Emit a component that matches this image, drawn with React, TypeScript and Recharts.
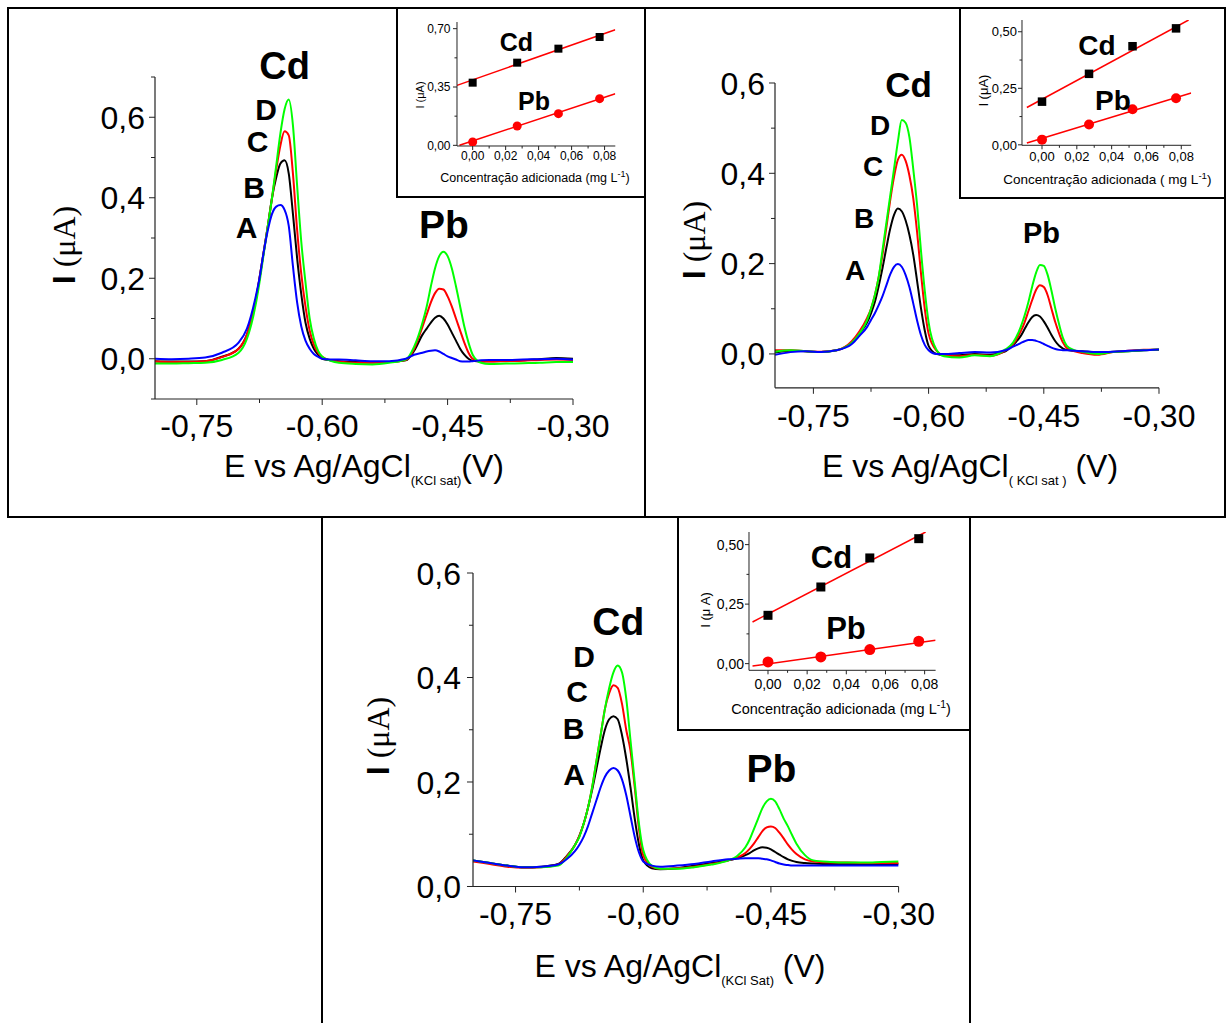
import { LineChart, Line, XAxis, YAxis } from 'recharts';

const FONT = '"Liberation Sans", Arial, Helvetica, sans-serif';
const SERIF = '"Liberation Serif", "Times New Roman", serif';
const AXIS = '#222';

// shared potential grid (V vs Ag/AgCl)
const potentials = [
  -0.8, -0.78, -0.76, -0.74, -0.72, -0.7, -0.69, -0.68, -0.675, -0.67, -0.665, -0.66, -0.655,
  -0.65, -0.645, -0.64, -0.635, -0.63, -0.625, -0.62, -0.615, -0.61, -0.605, -0.6, -0.59, -0.58,
  -0.56, -0.54, -0.52, -0.5, -0.49, -0.48, -0.475, -0.47, -0.465, -0.46, -0.455, -0.45, -0.445,
  -0.44, -0.435, -0.43, -0.425, -0.42, -0.41, -0.4, -0.38, -0.36, -0.34, -0.32, -0.3,
];

// panel 1 currents (uA)
const p1A = [
  0.0, -0.001, 0.0, 0.003, 0.015, 0.04, 0.075, 0.15, 0.2, 0.265, 0.32, 0.36, 0.378,
  0.382, 0.37, 0.33, 0.23, 0.14, 0.08, 0.045, 0.025, 0.012, 0.005, 0.0, -0.002, -0.002,
  -0.004, -0.006, -0.006, 0.0, 0.01, 0.015, 0.018, 0.02, 0.021, 0.018, 0.012, 0.006, 0.002,
  -0.002, -0.006, -0.007, -0.007, -0.006, -0.004, -0.003, -0.003, -0.002, -0.001, 0.0, -0.002,
];
const p1B = [
  -0.006, -0.007, -0.007, -0.006, 0.005, 0.025, 0.06, 0.14, 0.2, 0.265, 0.33, 0.4, 0.45,
  0.485, 0.493, 0.46, 0.36, 0.25, 0.16, 0.09, 0.05, 0.025, 0.01, 0.0, -0.004, -0.006,
  -0.008, -0.009, -0.008, -0.004, 0.02, 0.06, 0.075, 0.09, 0.102, 0.107, 0.1, 0.085, 0.065,
  0.045, 0.025, 0.01, 0.0, -0.005, -0.007, -0.006, -0.005, -0.004, -0.001, 0.002, 0.0,
];
const p1C = [
  -0.007, -0.008, -0.008, -0.006, 0.004, 0.025, 0.06, 0.14, 0.2, 0.265, 0.33, 0.4, 0.47,
  0.53, 0.565, 0.555, 0.46, 0.32, 0.21, 0.13, 0.07, 0.035, 0.015, 0.005, -0.004, -0.007,
  -0.01, -0.01, -0.008, -0.003, 0.025, 0.08, 0.11, 0.14, 0.163, 0.174, 0.172, 0.155, 0.13,
  0.1, 0.07, 0.04, 0.015, 0.0, -0.007, -0.007, -0.006, -0.005, -0.003, -0.002, -0.003,
];
const p1D = [
  -0.012, -0.012, -0.011, -0.01, -0.003, 0.015, 0.05, 0.13, 0.19, 0.26, 0.33, 0.4, 0.48,
  0.56, 0.62, 0.644, 0.58, 0.43, 0.29, 0.19, 0.1, 0.05, 0.02, 0.005, -0.005, -0.01,
  -0.013, -0.014, -0.01, -0.002, 0.03, 0.09, 0.13, 0.18, 0.225, 0.255, 0.266, 0.255, 0.225,
  0.18, 0.13, 0.08, 0.04, 0.01, -0.01, -0.013, -0.012, -0.011, -0.01, -0.008, -0.008,
];

// panel 2 currents (uA)
const p2A = [
  -0.002, 0.004, 0.006, 0.004, 0.008, 0.022, 0.04, 0.06, 0.075, 0.09, 0.108, 0.128, 0.152,
  0.176, 0.193, 0.199, 0.193, 0.175, 0.148, 0.112, 0.074, 0.042, 0.02, 0.008, 0.0, 0.0,
  0.002, 0.004, 0.003, 0.008, 0.016, 0.024, 0.028, 0.031, 0.031, 0.029, 0.026, 0.022, 0.018,
  0.014, 0.011, 0.009, 0.008, 0.008, 0.007, 0.006, 0.004, 0.005, 0.007, 0.008, 0.01,
];
const p2B = [
  0.003, 0.007, 0.006, 0.004, 0.008, 0.025, 0.045, 0.07, 0.09, 0.115, 0.15, 0.19, 0.235,
  0.277, 0.308, 0.322, 0.316, 0.296, 0.264, 0.22, 0.162, 0.102, 0.052, 0.018, 0.0, -0.003,
  -0.003, 0.0, -0.002, 0.006, 0.02, 0.04, 0.055, 0.07, 0.082, 0.086, 0.083, 0.072, 0.058,
  0.042, 0.028, 0.018, 0.012, 0.009, 0.007, 0.006, 0.003, 0.005, 0.006, 0.008, 0.009,
];
const p2C = [
  0.008, 0.008, 0.006, 0.005, 0.008, 0.028, 0.05, 0.08, 0.1, 0.13, 0.17, 0.22, 0.28,
  0.34, 0.392, 0.43, 0.441, 0.428, 0.395, 0.345, 0.27, 0.18, 0.1, 0.045, 0.008, -0.003,
  -0.005, -0.002, -0.004, 0.008, 0.022, 0.05, 0.07, 0.095, 0.12, 0.142, 0.152, 0.148, 0.13,
  0.1, 0.07, 0.045, 0.025, 0.013, 0.006, 0.002, -0.002, 0.004, 0.007, 0.009, 0.01,
];
const p2D = [
  0.005, 0.008, 0.006, 0.004, 0.008, 0.025, 0.045, 0.075, 0.1, 0.13, 0.17, 0.23, 0.29,
  0.35, 0.41, 0.47, 0.518, 0.512, 0.48, 0.41, 0.33, 0.23, 0.14, 0.07, 0.01, -0.005,
  -0.008, -0.003, -0.005, 0.01, 0.025, 0.06, 0.085, 0.115, 0.15, 0.18, 0.197, 0.195, 0.175,
  0.14, 0.1, 0.065, 0.035, 0.018, 0.008, 0.005, 0.0, 0.004, 0.006, 0.008, 0.01,
];

// panel 3 currents (uA)
const p3A = [
  0.05, 0.045, 0.04, 0.037, 0.038, 0.042, 0.052, 0.068, 0.08, 0.095, 0.115, 0.14, 0.165,
  0.19, 0.21, 0.222, 0.227, 0.222, 0.205, 0.175, 0.135, 0.095, 0.065, 0.048, 0.04, 0.038,
  0.04, 0.043, 0.048, 0.052, 0.053, 0.054, 0.054, 0.054, 0.054, 0.053, 0.052, 0.05, 0.047,
  0.044, 0.042, 0.041, 0.04, 0.04, 0.04, 0.04, 0.04, 0.04, 0.04, 0.04, 0.04,
];
const p3B = [
  0.05, 0.045, 0.04, 0.037, 0.038, 0.043, 0.058, 0.08, 0.097, 0.12, 0.15, 0.185, 0.225,
  0.265, 0.3, 0.32, 0.326, 0.32, 0.29, 0.245, 0.19, 0.13, 0.08, 0.05, 0.035, 0.033,
  0.035, 0.04, 0.045, 0.05, 0.054, 0.06, 0.064, 0.069, 0.073, 0.075, 0.074, 0.071, 0.066,
  0.061, 0.056, 0.052, 0.049, 0.047, 0.045, 0.044, 0.043, 0.043, 0.043, 0.043, 0.043,
];
const p3C = [
  0.048, 0.043, 0.038, 0.036, 0.037, 0.042, 0.057, 0.08, 0.097, 0.12, 0.15, 0.19, 0.24,
  0.29, 0.34, 0.37, 0.385, 0.38, 0.35, 0.3, 0.26, 0.19, 0.11, 0.06, 0.038, 0.034,
  0.035, 0.038, 0.043, 0.05, 0.055, 0.064, 0.072, 0.082, 0.094, 0.106, 0.113, 0.115, 0.112,
  0.103, 0.092, 0.08, 0.07, 0.062, 0.052, 0.048, 0.046, 0.046, 0.045, 0.045, 0.045,
];
const p3D = [
  0.05, 0.045, 0.04, 0.037, 0.037, 0.04, 0.055, 0.08, 0.095, 0.12, 0.15, 0.19, 0.24,
  0.29, 0.34, 0.38, 0.41, 0.423, 0.41, 0.36, 0.28, 0.2, 0.12, 0.07, 0.04, 0.034,
  0.034, 0.037, 0.042, 0.05, 0.058, 0.075, 0.09, 0.11, 0.13, 0.15, 0.163, 0.168, 0.163,
  0.148, 0.13, 0.115, 0.098, 0.082, 0.06, 0.05, 0.047, 0.046, 0.046, 0.047, 0.048,
];

const xMajor = [-0.75, -0.6, -0.45, -0.3];
const xMajorLabels = ['-0,75', '-0,60', '-0,45', '-0,30'];
const xMinor = [-0.675, -0.525, -0.375];
const yMajor = [0, 0.2, 0.4, 0.6];
const yMajorLabels = ['0,0', '0,2', '0,4', '0,6'];

// insets: added concentration (mg/L) vs peak current (uA)
const conc = [0, 0.027, 0.052, 0.077];
const in1Cd = [0.376, 0.496, 0.58, 0.65];
const in1Pb = [0.02, 0.116, 0.19, 0.28];
const in1CdFit = [[-0.0095, 0.36], [0.0865, 0.694]];
const in1PbFit = [[-0.008, 0.0], [0.0865, 0.31]];
const in2Cd = [0.191, 0.314, 0.436, 0.515];
const in2Pb = [0.023, 0.09, 0.157, 0.206];
const in2CdFit = [[-0.0087, 0.165], [0.0842, 0.552]];
const in2PbFit = [[-0.0087, 0.008], [0.0857, 0.229]];
const in3Cd = [0.203, 0.322, 0.444, 0.525];
const in3Pb = [0.007, 0.028, 0.059, 0.094];
const in3CdFit = [[-0.0079, 0.175], [0.0805, 0.553]];
const in3PbFit = [[-0.0079, -0.01], [0.0856, 0.098]];

const inXMajor = [0, 0.02, 0.04, 0.06, 0.08];
const inXLabels = ['0,00', '0,02', '0,04', '0,06', '0,08'];
const inXMinor = [0.01, 0.03, 0.05, 0.07];

const near = (a: number[], v: number) => a.findIndex((m) => Math.abs(m - v) < 1e-6);

function xTickFactory(majors: number[], labels: string[], fs: number, dy: number, big: number, small: number) {
  return (p: any) => {
    const i = near(majors, p.payload.value);
    return (
      <g>
        <line x1={p.x} x2={p.x} y1={p.y} y2={p.y + (i >= 0 ? big : small)} stroke={AXIS} strokeWidth={1} />
        {i >= 0 && (
          <text x={p.x} y={p.y + dy} textAnchor="middle" fontSize={fs} fontFamily={FONT} fill="#000">
            {labels[i]}
          </text>
        )}
      </g>
    );
  };
}

function yTickFactory(majors: number[], labels: string[], fs: number, gap: number, big: number, small: number) {
  return (p: any) => {
    const i = near(majors, p.payload.value);
    return (
      <g>
        <line x1={p.x - (i >= 0 ? big : small)} x2={p.x} y1={p.y} y2={p.y} stroke={AXIS} strokeWidth={1} />
        {i >= 0 && (
          <text x={p.x - gap} y={p.y + fs * 0.36} textAnchor="end" fontSize={fs} fontFamily={FONT} fill="#000">
            {labels[i]}
          </text>
        )}
      </g>
    );
  };
}

type Box = { l: number; t: number; r: number; b: number };

function MainPlot(props: {
  box: Box;
  yDomain: [number, number];
  yMinor: number[];
  xDy: number;
  yGap: number;
  A: number[];
  B: number[];
  C: number[];
  D: number[];
}) {
  const { box, yDomain, yMinor, xDy, yGap, A, B, C, D } = props;
  const PL = 110, PT = 30, PR = 50, PB = 60;
  const rows = potentials.map((e, i) => ({ e, A: A[i], B: B[i], C: C[i], D: D[i] }));
  return (
    <div style={{ position: 'absolute', left: box.l - PL, top: box.t - PT }}>
      <LineChart width={box.r - box.l + PL + PR} height={box.b - box.t + PT + PB} data={rows}
        margin={{ top: PT, right: PR, left: 0, bottom: 0 }}>
        <XAxis type="number" dataKey="e" domain={[-0.8, -0.3]} allowDataOverflow
          ticks={[...xMajor, ...xMinor]} interval={0} height={PB} tickSize={0} tickMargin={0}
          tickLine={false} axisLine={{ stroke: AXIS, strokeWidth: 1.2 }}
          tick={xTickFactory(xMajor, xMajorLabels, 32, xDy, 6, 4)} />
        <YAxis type="number" domain={yDomain} allowDataOverflow
          ticks={[...yMajor, ...yMinor]} interval={0} width={PL} tickSize={0} tickMargin={0}
          tickLine={false} axisLine={{ stroke: AXIS, strokeWidth: 1.2 }}
          tick={yTickFactory(yMajor, yMajorLabels, 32, yGap, 6, 4)} />
        <Line type="monotone" dataKey="B" stroke="#000000" strokeWidth={2} dot={false} isAnimationActive={false} />
        <Line type="monotone" dataKey="C" stroke="#ff0000" strokeWidth={2} dot={false} isAnimationActive={false} />
        <Line type="monotone" dataKey="D" stroke="#00ff00" strokeWidth={2} dot={false} isAnimationActive={false} />
        <Line type="monotone" dataKey="A" stroke="#0000ff" strokeWidth={2} dot={false} isAnimationActive={false} />
      </LineChart>
    </div>
  );
}

function InsetPlot(props: {
  box: Box;
  xDomain: [number, number];
  yDomain: [number, number];
  yTicks: number[];
  yLabels: string[];
  yMinor: number[];
  fs: number;
  xDy: number;
  yGap: number;
  cd: number[];
  pb: number[];
  cdFit: number[][];
  pbFit: number[][];
  sq: number;
  r: number;
}) {
  const { box, xDomain, yDomain, yTicks, yLabels, yMinor, fs, xDy, yGap, cd, pb, cdFit, pbFit, sq, r } = props;
  const PL = 60, PT = 14, PR = 20, PB = 40;
  const cdPts = conc.map((c, i) => ({ c, v: cd[i] }));
  const pbPts = conc.map((c, i) => ({ c, v: pb[i] }));
  const cdLine = cdFit.map(([c, v]) => ({ c, v }));
  const pbLine = pbFit.map(([c, v]) => ({ c, v }));
  const square = (p: any) => (
    <rect key={`s${p.index}`} x={p.cx - sq / 2} y={p.cy - sq / 2} width={sq} height={sq} fill="#000" />
  );
  const circle = (p: any) => <circle key={`c${p.index}`} cx={p.cx} cy={p.cy} r={r} fill="#ff0000" />;
  return (
    <div style={{ position: 'absolute', left: box.l - PL, top: box.t - PT }}>
      <LineChart width={box.r - box.l + PL + PR} height={box.b - box.t + PT + PB}
        margin={{ top: PT, right: PR, left: 0, bottom: 0 }}>
        <XAxis type="number" dataKey="c" domain={xDomain} allowDataOverflow
          ticks={[...inXMajor, ...inXMinor]} interval={0} height={PB} tickSize={0} tickMargin={0}
          tickLine={false} axisLine={{ stroke: AXIS, strokeWidth: 1 }}
          tick={xTickFactory(inXMajor, inXLabels, fs, xDy, 4, 2.5)} />
        <YAxis type="number" domain={yDomain} allowDataOverflow
          ticks={[...yTicks, ...yMinor]} interval={0} width={PL} tickSize={0} tickMargin={0}
          tickLine={false} axisLine={{ stroke: AXIS, strokeWidth: 1 }}
          tick={yTickFactory(yTicks, yLabels, fs, yGap, 4, 2.5)} />
        <Line data={cdLine} dataKey="v" stroke="#ff0000" strokeWidth={1.5} dot={false} isAnimationActive={false} />
        <Line data={pbLine} dataKey="v" stroke="#ff0000" strokeWidth={1.5} dot={false} isAnimationActive={false} />
        <Line data={cdPts} dataKey="v" stroke="none" dot={square} isAnimationActive={false} />
        <Line data={pbPts} dataKey="v" stroke="none" dot={circle} isAnimationActive={false} />
      </LineChart>
    </div>
  );
}

function Bold({ x, y, size, children }: { x: number; y: number; size: number; children: string }) {
  return (
    <text x={x} y={y + size * 0.36} textAnchor="middle" fontSize={size} fontWeight="bold" fontFamily={FONT} fill="#000">
      {children}
    </text>
  );
}

function YTitle({ x, y, size }: { x: number; y: number; size: number }) {
  return (
    <text transform={`translate(${x + size * 0.36},${y}) rotate(-90)`} textAnchor="middle" fontSize={size} fill="#000">
      <tspan fontFamily={FONT} fontWeight="bold">I</tspan>
      <tspan fontFamily={SERIF}>{' (\u03bcA)'}</tspan>
    </text>
  );
}

function InsetYTitle({ x, y, size, spaced }: { x: number; y: number; size: number; spaced?: boolean }) {
  return (
    <text transform={`translate(${x + size * 0.36},${y}) rotate(-90)`} textAnchor="middle" fontSize={size}
      fontFamily={FONT} fill="#000">
      {spaced ? 'I (\u03bc A)' : 'I (\u03bcA)'}
    </text>
  );
}

function ConcTitle({ x, y, size, pre }: { x: number; y: number; size: number; pre: string }) {
  return (
    <text x={x} y={y} textAnchor="middle" fontSize={size} fontFamily={FONT} fill="#000">
      {pre}
      <tspan dy={-size * 0.38} fontSize={size * 0.72}>-1</tspan>
      <tspan dy={size * 0.38}>)</tspan>
    </text>
  );
}

function ETitle({ x, y, sub, tail }: { x: number; y: number; sub: string; tail: string }) {
  return (
    <text x={x} y={y} textAnchor="middle" fontSize={32} fontFamily={FONT} fill="#000">
      E vs Ag/AgCl
      <tspan fontSize={13} dy={8}>{sub}</tspan>
      <tspan dy={-8}>{tail}</tspan>
    </text>
  );
}

export default function App() {
  return (
    <div style={{ position: 'absolute', left: 0, top: 0, width: 1227, height: 1023, background: '#fff', overflow: 'hidden' }}>
      <MainPlot box={{ l: 155, t: 77, r: 573, b: 399 }} yDomain={[-0.1, 0.7]} yMinor={[-0.1, 0.1, 0.3, 0.5, 0.7]}
        xDy={38} yGap={10} A={p1A} B={p1B} C={p1C} D={p1D} />
      <MainPlot box={{ l: 775, t: 82.7, r: 1159, b: 387.5 }} yDomain={[-0.075, 0.6]} yMinor={[0.1, 0.3, 0.5]}
        xDy={39.5} yGap={10} A={p2A} B={p2B} C={p2C} D={p2D} />
      <MainPlot box={{ l: 472.7, t: 572.5, r: 898.3, b: 886 }} yDomain={[0, 0.6]} yMinor={[0.1, 0.3, 0.5]}
        xDy={39} yGap={12} A={p3A} B={p3B} C={p3C} D={p3D} />

      <div style={{ position: 'absolute', left: 397, top: 8, width: 248, height: 189, background: '#fff' }} />
      <div style={{ position: 'absolute', left: 960, top: 8, width: 265, height: 190, background: '#fff' }} />
      <div style={{ position: 'absolute', left: 678, top: 517, width: 292, height: 213, background: '#fff' }} />

      <InsetPlot box={{ l: 456.7, t: 21.7, r: 615, b: 145.7 }} xDomain={[-0.0095, 0.0865]} yDomain={[-0.004, 0.74]}
        yTicks={[0, 0.35, 0.7]} yLabels={['0,00', '0,35', '0,70']} yMinor={[0.175, 0.525]}
        fs={12} xDy={13.6} yGap={6.5} cd={in1Cd} pb={in1Pb} cdFit={in1CdFit} pbFit={in1PbFit} sq={8} r={4.5} />
      <InsetPlot box={{ l: 1021.8, t: 20, r: 1191, b: 145.3 }} xDomain={[-0.0115, 0.0857]} yDomain={[-0.002, 0.552]}
        yTicks={[0, 0.25, 0.5]} yLabels={['0,00', '0,25', '0,50']} yMinor={[0.125, 0.375]}
        fs={13} xDy={15.4} yGap={5} cd={in2Cd} pb={in2Pb} cdFit={in2CdFit} pbFit={in2PbFit} sq={8.5} r={5} />
      <InsetPlot box={{ l: 748.7, t: 531.7, r: 935.3, b: 670 }} xDomain={[-0.0097, 0.0856]} yDomain={[-0.028, 0.553]}
        yTicks={[0, 0.25, 0.5]} yLabels={['0,00', '0,25', '0,50']} yMinor={[0.125, 0.375]}
        fs={14} xDy={19} yGap={5} cd={in3Cd} pb={in3Pb} cdFit={in3CdFit} pbFit={in3PbFit} sq={9} r={5.5} />

      <svg width={1227} height={1023} style={{ position: 'absolute', left: 0, top: 0, pointerEvents: 'none' }}>
        {/* panel frames */}
        <g fill="none" stroke="#000" strokeWidth={2}>
          <rect x={8} y={8} width={637} height={509} />
          <rect x={645} y={8} width={580} height={509} />
          <polyline points="322,1024 322,517 970,517 970,1024" />
          <rect x={397} y={8} width={248} height={189} />
          <rect x={960} y={8} width={265} height={190} />
          <rect x={678} y={517} width={292} height={213} />
        </g>

        {/* panel 1 */}
        <Bold x={284.7} y={65.7} size={38}>Cd</Bold>
        <Bold x={266} y={109} size={30}>D</Bold>
        <Bold x={257.5} y={140.8} size={30}>C</Bold>
        <Bold x={254} y={187.5} size={30}>B</Bold>
        <Bold x={246.7} y={227.5} size={30}>A</Bold>
        <Bold x={444} y={224} size={39}>Pb</Bold>
        <YTitle x={63} y={245} size={32} />
        <ETitle x={364} y={477} sub="(KCl sat)" tail="(V)" />

        {/* panel 2 */}
        <Bold x={908.5} y={84.5} size={35}>Cd</Bold>
        <Bold x={880} y={125} size={28}>D</Bold>
        <Bold x={873} y={166} size={28}>C</Bold>
        <Bold x={864} y={218} size={28}>B</Bold>
        <Bold x={855} y={270} size={28}>A</Bold>
        <Bold x={1041.5} y={232.5} size={29}>Pb</Bold>
        <YTitle x={693} y={240} size={32} />
        <ETitle x={970} y={477} sub="( KCl sat )" tail=" (V)" />

        {/* panel 3 */}
        <Bold x={618.3} y={620.5} size={39}>Cd</Bold>
        <Bold x={584} y={656} size={30}>D</Bold>
        <Bold x={577} y={691} size={30}>C</Bold>
        <Bold x={573.5} y={728.5} size={30}>B</Bold>
        <Bold x={574} y={774} size={30}>A</Bold>
        <Bold x={771.5} y={767.5} size={39}>Pb</Bold>
        <YTitle x={377} y={736} size={32} />
        <ETitle x={680} y={977} sub="(KCl Sat)" tail=" (V)" />

        {/* inset labels */}
        <Bold x={516.3} y={41.7} size={25}>Cd</Bold>
        <Bold x={534} y={100.7} size={25}>Pb</Bold>
        <InsetYTitle x={420} y={95} size={11} />
        <ConcTitle x={535} y={182} size={12.5} pre="Concentração adicionada (mg L" />

        <Bold x={1097} y={45.3} size={28}>Cd</Bold>
        <Bold x={1113} y={99.8} size={28}>Pb</Bold>
        <InsetYTitle x={983} y={90.6} size={13} />
        <ConcTitle x={1107.4} y={184.2} size={13.5} pre="Concentração adicionada ( mg L" />

        <Bold x={831.5} y={556.7} size={31}>Cd</Bold>
        <Bold x={846} y={627.5} size={31}>Pb</Bold>
        <InsetYTitle x={705} y={610} size={13} spaced />
        <ConcTitle x={841} y={713.5} size={14.5} pre="Concentração adicionada (mg L" />
      </svg>
    </div>
  );
}
